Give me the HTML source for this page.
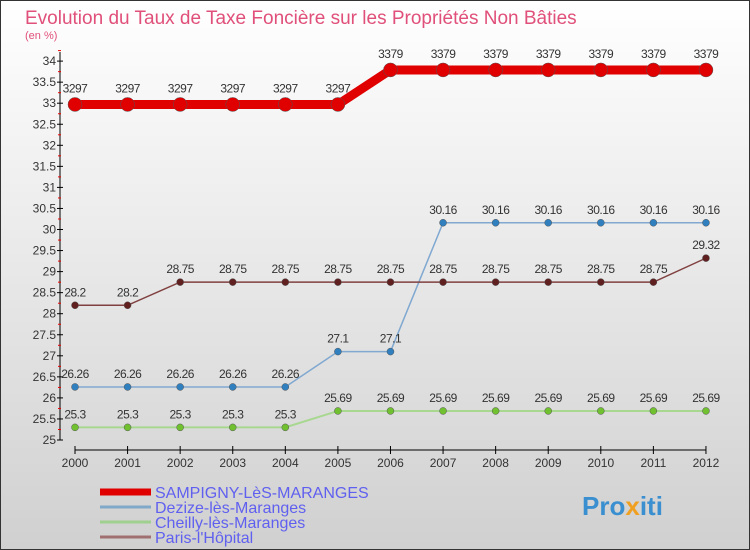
<!DOCTYPE html>
<html><head><meta charset="utf-8"><style>
body{margin:0;width:750px;height:550px;overflow:hidden;font-family:"Liberation Sans",sans-serif}
#c{position:absolute;left:0;top:0;width:748px;height:548px;border:1px solid #333;background:linear-gradient(#ffffff,#d0d0d0)}
</style></head><body>
<div id="c"></div>
<svg id="s" width="750" height="550" style="position:absolute;left:0;top:0">
<text x="25" y="24" font-size="19" fill="#e0507a">Evolution du Taux de Taxe Foncière sur les Propriétés Non Bâties</text>
<text x="25" y="39" font-size="11" fill="#e0507a">(en %)</text>
<g id="ax"></g><g id="series"></g><g id="legend"></g>
<text x="582" y="515" font-size="26" font-weight="bold" fill="#3a8fd0">Pro<tspan fill="#f0a020">x</tspan>iti</text>
</svg>
<script>
const years=[2000,2001,2002,2003,2004,2005,2006,2007,2008,2009,2010,2011,2012];
const yTicks=[25,25.5,26,26.5,27,27.5,28,28.5,29,29.5,30,30.5,31,31.5,32,32.5,33,33.5,34];
const seriesNames=["SAMPIGNY-LèS-MARANGES","Dezize-lès-Maranges","Cheilly-lès-Maranges","Paris-l'Hôpital"];
const sampigny=[32.97,32.97,32.97,32.97,32.97,32.97,33.79,33.79,33.79,33.79,33.79,33.79,33.79];
const dezize=[26.26,26.26,26.26,26.26,26.26,27.1,27.1,30.16,30.16,30.16,30.16,30.16,30.16];
const cheilly=[25.3,25.3,25.3,25.3,25.3,25.69,25.69,25.69,25.69,25.69,25.69,25.69,25.69];
const paris=[28.2,28.2,28.75,28.75,28.75,28.75,28.75,28.75,28.75,28.75,28.75,28.75,29.32];
const NS="http://www.w3.org/2000/svg";
const X=i=>75+i*52.58, Y=v=>440-(v-25)*42.1;
function mk(p,t,a){const e=document.createElementNS(NS,t);for(const k in a)e.setAttribute(k,a[k]);p.appendChild(e);return e;}
const ax=document.getElementById('ax');
mk(ax,'line',{x1:60,y1:52,x2:60,y2:440,stroke:'#000'});
mk(ax,'line',{x1:75,y1:450,x2:706,y2:450,stroke:'#000'});
yTicks.forEach(v=>{
 mk(ax,'line',{x1:57,y1:Y(v),x2:63,y2:Y(v),stroke:'#000'});
 mk(ax,'line',{x1:58,y1:Y(v)-10.5,x2:61,y2:Y(v)-10.5,stroke:'#e00'});
 const t=mk(ax,'text',{x:56,y:Y(v)+4,'font-size':12,fill:'#333','text-anchor':'end'});t.textContent=v;
 
 
});
years.forEach((y,i)=>{
 mk(ax,'line',{x1:X(i),y1:446,x2:X(i),y2:454,stroke:'#000'});
 const t=mk(ax,'text',{x:X(i),y:467,'font-size':12,fill:'#333','text-anchor':'middle'});t.textContent=y;
 
 
});
const sg=document.getElementById('series');
function draw(data,col,lw,r,dot,name){
 const g=mk(sg,'g',{});
 
 
 mk(g,'polyline',{points:data.map((v,i)=>X(i)+','+Y(v)).join(' '),fill:'none',stroke:col,'stroke-width':lw});
 data.forEach((v,i)=>{
  const c=mk(g,'circle',{cx:X(i),cy:Y(v),r:r,fill:dot,stroke:'#555','stroke-width':0.5});
  
  
  const t=mk(g,'text',{x:X(i),y:Y(v)-(lw>5?12:9),'font-size':12,fill:'#333','text-anchor':'middle','letter-spacing':'-0.5'});
  t.textContent=String(v).replace('.',lw>5?'':'.');
  
  
 });
}
draw(cheilly,'#a8d890',2,3.5,'#70c030','cheilly-series');
draw(dezize,'#80a8d0',1.5,3.5,'#3080c0','dezize-series');
draw(paris,'#804040',1.5,3.5,'#602020','paris-series');
draw(sampigny,'#e00000',9,7,'#e00000','sampigny-series');
const lg=document.getElementById('legend');
const lcol=['#e00000','#80a8c8','#a0d090','#a07070'],lw=[7,3,3,3];
seriesNames.forEach((n,i)=>{
 const y=492+i*15;
 const g=mk(lg,'g',{});
 
 
 mk(g,'line',{x1:100,y1:y,x2:151,y2:y,stroke:lcol[i],'stroke-width':lw[i]});
 const t=mk(g,'text',{x:155,y:y+6,'font-size':16,fill:'#6060f0'});t.textContent=n;
});
</script>
</body></html>
